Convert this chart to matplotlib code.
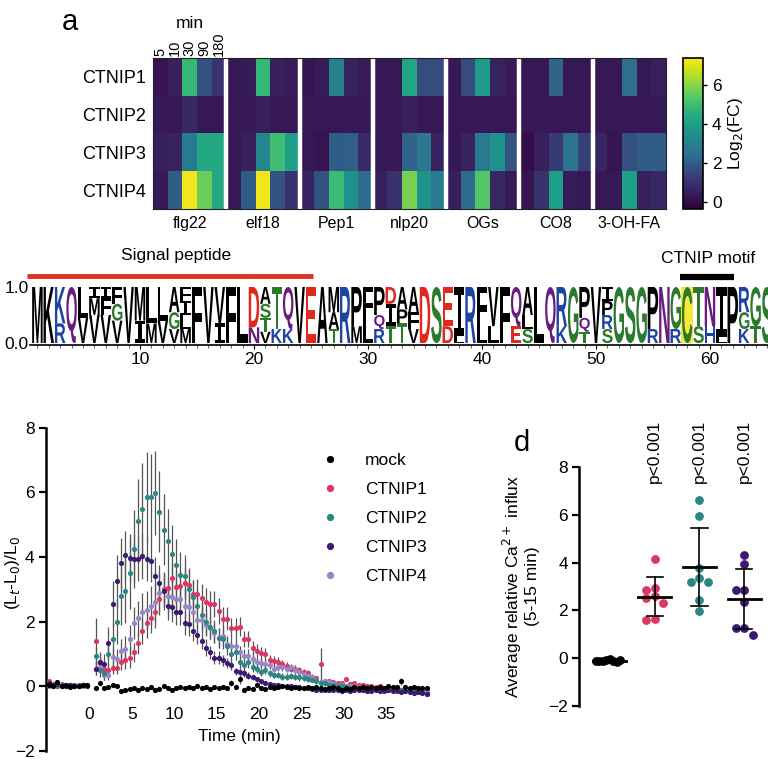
import numpy as np
import matplotlib
matplotlib.use("Agg")
import matplotlib.pyplot as plt
from matplotlib.textpath import TextPath
from matplotlib.patches import PathPatch, Rectangle
from matplotlib.font_manager import FontProperties
from matplotlib.colors import ListedColormap
import matplotlib.transforms as mtransforms
from matplotlib.lines import Line2D

plt.rcParams['font.family'] = ['Liberation Sans', 'DejaVu Sans']

# ---------------- data: heatmap (rows CTNIP1..4, cols 5,10,30,90,180 min) -------------
rows = ["CTNIP1", "CTNIP2", "CTNIP3", "CTNIP4"]
elicitors = ["flg22", "elf18", "Pep1", "nlp20", "OGs", "CO8", "3-OH-FA"]
timepoints = ["5", "10", "30", "90", "180"]
hm_flg22 = [[0.2, 0.5, 4.8, 1.8, 1.0], [0.3, 0.3, 0.7, 0.3, 0.3], [0.5, 0.6, 2.8, 4.3, 4.3], [0.3, 2.0, 7.2, 5.6, 4.3]]
hm_elf18 = [[0.3, 0.4, 4.8, 0.5, 0.4], [0.3, 0.3, 0.5, 0.3, 0.3], [0.3, 0.5, 3.2, 5.0, 4.0], [0.3, 2.0, 7.2, 1.8, 1.0]]
hm_pep1 = [[0.2, 0.4, 3.0, 0.6, 0.4], [0.3, 0.3, 0.3, 0.3, 0.3], [0.3, 0.2, 2.0, 2.1, 0.8], [0.6, 1.8, 4.9, 3.6, 2.4]]
hm_nlp20 = [[0.3, 0.3, 4.2, 1.6, 1.6], [0.3, 0.3, 0.5, 0.3, 0.3], [0.3, 0.3, 2.2, 2.7, 0.6], [0.5, 1.0, 5.8, 3.6, 2.8]]
hm_ogs = [[0.3, 1.6, 3.8, 0.6, 0.4], [0.3, 0.3, 0.3, 0.3, 0.3], [0.3, 0.6, 2.8, 3.6, 1.8], [0.5, 2.4, 5.3, 0.7, 0.4]]
hm_co8 = [[0.3, 0.3, 2.2, 0.3, 0.3], [0.3, 0.3, 0.3, 0.3, 0.3], [0.05, 0.5, 1.2, 2.6, 1.3], [0.2, 1.0, 4.0, 0.4, 0.3]]
hm_ohfa = [[0.3, 0.3, 2.5, 0.3, 0.5], [0.3, 0.3, 0.3, 0.3, 0.3], [0.7, 0.2, 1.7, 2.0, 2.0], [0.3, 0.3, 4.0, 0.5, 0.7]]

# ---------------- data: sequence logo ---------------------------------------------------
logo_letters = ["M", "K", "KR", "Q", "LV", "IMV", "IFV", "FGV", "V", "MI",
                "LM", "LV", "AGV", "FILM", "F", "V", "VI", "F", "L", "DN",
                "ASTV", "TK", "QK", "V", "E", "A", "MAT", "R", "PM", "FL",
                "PQR", "DIT", "APT", "AFV", "D", "S", "ED", "IL", "R", "FL",
                "VL", "F", "QE", "ALS", "L", "Q", "RK", "G", "PQT", "V",
                "IPRS", "G", "S", "G", "PR", "N", "GR", "C", "TS", "NH",
                "IL", "P", "RGK", "GT", "S"]
logo_heights = [[1.0], [1.0], [0.65, 0.35], [1.0], [0.55, 0.45], [0.2, 0.3, 0.5], [0.2, 0.3, 0.5], [0.3, 0.3, 0.4], [1.0], [0.6, 0.4],
                [0.65, 0.35], [0.6, 0.4], [0.45, 0.3, 0.25], [0.25, 0.25, 0.25, 0.25], [1.0], [1.0], [0.65, 0.35], [1.0], [1.0], [0.72, 0.28],
                [0.3, 0.25, 0.25, 0.2], [0.75, 0.25], [0.75, 0.25], [1.0], [1.0], [1.0], [0.45, 0.3, 0.25], [1.0], [0.7, 0.3], [0.6, 0.4],
                [0.5, 0.25, 0.25], [0.3, 0.4, 0.3], [0.4, 0.25, 0.35], [0.45, 0.3, 0.25], [1.0], [1.0], [0.7, 0.3], [0.88, 0.12], [1.0], [0.7, 0.3],
                [0.7, 0.3], [1.0], [0.7, 0.3], [0.5, 0.25, 0.25], [1.0], [1.0], [0.7, 0.3], [1.0], [0.55, 0.25, 0.2], [1.0],
                [0.25, 0.25, 0.25, 0.25], [1.0], [1.0], [1.0], [0.75, 0.25], [1.0], [0.75, 0.25], [1.0], [0.7, 0.3], [0.7, 0.3],
                [0.9, 0.1], [1.0], [0.45, 0.3, 0.25], [0.7, 0.3], [1.0]]
signal_peptide = (1, 25)
motif = (58, 61)
highlight_pos = 58

# ---------------- data: Ca2+ time course ------------------------------------------------
time_pre = np.arange(-4.75, 0.0, 0.5)
time_post = np.arange(0.75, 40.0, 0.5)
time = np.concatenate([time_pre, time_post])

mock = [0.05, 0.02, 0.12, 0.0, 0.03, -0.02, 0.02, 0.01, 0.03, 0.05,
        -0.05, 0.1, -0.05, -0.02, 0.05, 0.0, -0.15, -0.12, -0.08, -0.05,
        -0.1, -0.05, -0.08, -0.03, -0.1, -0.08, 0.02, -0.05, -0.1, -0.05,
        -0.03, -0.05, -0.02, -0.05, 0.0, -0.05, -0.02, -0.08, -0.03, -0.05,
        -0.02, -0.05, 0.1, -0.02, 0.22, -0.1, -0.05, -0.08, 0.05, -0.05,
        -0.08, -0.02, -0.05, -0.03, 0.0, -0.02, -0.05, -0.02, -0.05, -0.05,
        -0.03, -0.05, -0.02, -0.05, -0.08, -0.05, -0.03, -0.05, -0.1, -0.05,
        -0.08, -0.03, -0.05, -0.02, -0.05, -0.03, -0.05, -0.02, -0.05, 0.0,
        -0.02, -0.03, 0.15, -0.02, -0.05, -0.03, -0.05, -0.05, -0.05]
ctnip1 = [0.15, 0.05, 0.0, 0.08, 0.02, 0.05, 0.0, 0.03, 0.05, 0.02,
          1.4, 0.72, 0.55, 0.5, 0.57, 0.57, 0.75, 0.8, 0.88, 1.05,
          1.35, 1.7, 1.95, 2.1, 2.3, 2.7, 3.0, 3.05, 3.35, 3.07,
          3.1, 3.2, 3.15, 2.85, 2.87, 2.73, 2.6, 2.55, 2.56, 2.34,
          2.09, 2.09, 1.8, 1.8, 1.85, 1.46, 1.46, 1.2, 1.1, 1.03,
          1.0, 0.82, 0.78, 0.75, 0.7, 0.62, 0.55, 0.55, 0.5, 0.45,
          0.4, 0.3, 0.25, 0.7, 0.15, 0.15, 0.12, 0.1, 0.1, 0.22,
          0.08, 0.1, 0.05, 0.05, 0.0, 0.02, -0.02, 0.0, -0.05, -0.05,
          -0.08, -0.05, -0.1, -0.1, -0.12, -0.1, -0.15, -0.12, -0.2]
ctnip2 = [0.05, 0.08, 0.02, 0.05, 0.0, 0.03, 0.05, 0.02, 0.04, 0.03,
          0.93, 0.5, 0.4, 1.0, 1.45, 2.0, 2.8, 2.95, 3.5, 4.25,
          5.1, 5.5, 5.85, 5.85, 5.97, 5.4, 4.85, 4.5, 4.1, 3.75,
          3.45, 3.4, 3.0, 2.75, 2.5, 2.2, 2.0, 1.85, 1.7, 1.5,
          1.45, 1.25, 1.0, 1.05, 0.75, 0.65, 0.75, 0.6, 0.55, 0.45,
          0.5, 0.4, 0.35, 0.35, 0.3, 0.3, 0.32, 0.3, 0.28, 0.25,
          0.22, 0.2, 0.15, 0.1, 0.1, 0.05, 0.05, 0.0, 0.0, -0.02,
          -0.05, -0.05, -0.08, -0.1, -0.1, -0.12, -0.1, -0.12, -0.12, -0.1,
          -0.12, -0.1, -0.12, -0.15, -0.12, -0.1, -0.15, -0.18, -0.25]
ctnip3 = [0.1, 0.05, 0.08, 0.02, 0.0, 0.05, 0.02, 0.0, 0.03, 0.01,
          0.55, 0.75, 0.7, 1.35, 2.55, 3.25, 3.8, 4.05, 3.97, 3.95,
          3.95, 4.02, 3.95, 3.88, 3.4, 3.2, 2.95, 2.5, 2.45, 2.3,
          2.3, 1.95, 1.92, 1.7, 1.6, 1.4, 1.2, 1.05, 0.88, 0.88,
          0.8, 0.72, 0.65, 0.46, 0.43, 0.4, 0.33, 0.28, 0.22, 0.15,
          0.1, 0.07, 0.05, 0.03, 0.02, 0.0, 0.0, -0.02, -0.03, -0.05,
          -0.05, -0.08, -0.1, -0.1, -0.12, -0.12, -0.1, -0.12, -0.13, -0.12,
          -0.13, -0.12, -0.1, -0.12, -0.13, -0.15, -0.12, -0.15, -0.15, -0.12,
          -0.15, -0.15, -0.18, -0.15, -0.17, -0.2, -0.18, -0.22, -0.25]
ctnip4 = [0.02, 0.0, 0.05, 0.03, 0.0, 0.02, 0.04, 0.0, 0.02, 0.03,
          0.55, 0.6, 0.35, 0.35, 0.9, 0.85, 1.1, 1.15, 1.45, 1.95,
          2.1, 2.3, 2.35, 2.5, 2.6, 2.9, 2.95, 2.8, 2.75, 2.7,
          2.7, 2.5, 2.45, 2.3, 2.05, 2.05, 1.9, 1.8, 1.65, 1.5,
          1.55, 1.3, 1.25, 1.25, 1.05, 0.95, 0.95, 0.85, 0.75, 0.72,
          0.7, 0.65, 0.55, 0.6, 0.6, 0.55, 0.6, 0.5, 0.45, 0.38,
          0.32, 0.28, 0.2, 0.12, 0.15, 0.12, 0.1, 0.05, 0.05, 0.02,
          0.0, 0.0, -0.02, -0.05, -0.05, -0.05, -0.08, -0.05, -0.08, -0.1,
          -0.08, -0.1, -0.1, -0.12, -0.1, -0.12, -0.1, -0.15, -0.12]

err_mock = [0.05, 0.05, 0.05, 0.05, 0.05, 0.05, 0.05, 0.05, 0.05, 0.05,
            0.05, 0.08, 0.05, 0.05, 0.05, 0.05, 0.06, 0.05, 0.05, 0.05,
            0.05, 0.05, 0.05, 0.05, 0.05, 0.05, 0.05, 0.05, 0.05, 0.05,
            0.05, 0.05, 0.05, 0.05, 0.05, 0.05, 0.05, 0.05, 0.05, 0.05,
            0.05, 0.05, 0.1, 0.05, 0.15, 0.05, 0.05, 0.05, 0.05, 0.05,
            0.05, 0.05, 0.05, 0.05, 0.05, 0.05, 0.05, 0.05, 0.05, 0.05,
            0.05, 0.05, 0.05, 0.05, 0.05, 0.05, 0.05, 0.05, 0.05, 0.05,
            0.05, 0.05, 0.05, 0.05, 0.05, 0.05, 0.05, 0.05, 0.05, 0.05,
            0.05, 0.05, 0.1, 0.05, 0.05, 0.05, 0.05, 0.05, 0.05]
err1 = [0.08, 0.05, 0.05, 0.05, 0.05, 0.05, 0.05, 0.05, 0.05, 0.05,
        0.7, 0.3, 0.2, 0.2, 0.2, 0.2, 0.25, 0.25, 0.3, 0.3,
        0.35, 0.4, 0.45, 0.45, 0.5, 0.5, 0.5, 0.5, 0.5, 0.5,
        0.5, 0.5, 0.5, 0.45, 0.45, 0.45, 0.45, 0.4, 0.4, 0.4,
        0.35, 0.35, 0.3, 0.3, 0.3, 0.25, 0.25, 0.2, 0.2, 0.2,
        0.18, 0.15, 0.15, 0.15, 0.12, 0.12, 0.12, 0.1, 0.1, 0.1,
        0.1, 0.08, 0.08, 0.5, 0.08, 0.08, 0.07, 0.07, 0.07, 0.07,
        0.06, 0.06, 0.06, 0.06, 0.06, 0.06, 0.06, 0.06, 0.06, 0.06,
        0.06, 0.06, 0.06, 0.06, 0.06, 0.06, 0.06, 0.06, 0.06]
err2 = [0.05, 0.05, 0.05, 0.05, 0.05, 0.05, 0.05, 0.05, 0.05, 0.05,
        0.3, 0.2, 0.2, 0.4, 0.5, 0.7, 0.9, 1.0, 1.1, 1.2,
        1.3, 1.4, 1.4, 1.35, 1.3, 1.25, 1.1, 1.0, 0.9, 0.8,
        0.7, 0.65, 0.6, 0.55, 0.5, 0.45, 0.4, 0.4, 0.35, 0.3,
        0.3, 0.28, 0.25, 0.25, 0.2, 0.18, 0.18, 0.15, 0.15, 0.12,
        0.12, 0.1, 0.1, 0.1, 0.1, 0.1, 0.1, 0.1, 0.1, 0.08,
        0.08, 0.08, 0.08, 0.08, 0.08, 0.06, 0.06, 0.06, 0.06, 0.06,
        0.06, 0.06, 0.06, 0.06, 0.06, 0.06, 0.06, 0.06, 0.06, 0.06,
        0.06, 0.06, 0.06, 0.06, 0.06, 0.06, 0.06, 0.06, 0.06]
err3 = [0.05, 0.05, 0.05, 0.05, 0.05, 0.05, 0.05, 0.05, 0.05, 0.05,
        0.2, 0.3, 0.3, 0.5, 0.7, 0.8, 0.8, 0.75, 0.75, 0.75,
        0.7, 0.7, 0.7, 0.65, 0.6, 0.55, 0.5, 0.45, 0.45, 0.4,
        0.4, 0.35, 0.35, 0.3, 0.3, 0.25, 0.25, 0.2, 0.2, 0.2,
        0.18, 0.15, 0.15, 0.12, 0.12, 0.1, 0.1, 0.08, 0.08, 0.08,
        0.06, 0.06, 0.06, 0.06, 0.06, 0.06, 0.06, 0.06, 0.06, 0.06,
        0.06, 0.06, 0.06, 0.06, 0.06, 0.06, 0.06, 0.06, 0.06, 0.06,
        0.06, 0.06, 0.06, 0.06, 0.06, 0.06, 0.06, 0.06, 0.06, 0.06,
        0.06, 0.06, 0.06, 0.06, 0.06, 0.06, 0.06, 0.06, 0.06]
err4 = [0.05, 0.05, 0.05, 0.05, 0.05, 0.05, 0.05, 0.05, 0.05, 0.05,
        0.2, 0.2, 0.15, 0.15, 0.3, 0.3, 0.35, 0.4, 0.45, 0.5,
        0.55, 0.6, 0.6, 0.6, 0.6, 0.6, 0.6, 0.55, 0.55, 0.5,
        0.5, 0.5, 0.45, 0.45, 0.4, 0.4, 0.35, 0.35, 0.3, 0.3,
        0.3, 0.25, 0.25, 0.25, 0.2, 0.2, 0.2, 0.18, 0.15, 0.15,
        0.15, 0.12, 0.12, 0.12, 0.12, 0.1, 0.1, 0.1, 0.1, 0.08,
        0.06, 0.06, 0.06, 0.06, 0.06, 0.06, 0.06, 0.06, 0.06, 0.06,
        0.06, 0.06, 0.06, 0.06, 0.06, 0.06, 0.06, 0.06, 0.06, 0.06,
        0.06, 0.06, 0.06, 0.06, 0.06, 0.06, 0.06, 0.06, 0.06]

series_names = ["mock", "CTNIP1", "CTNIP2", "CTNIP3", "CTNIP4"]
series_colors = ["#000000", "#dc3764", "#2a8783", "#3c1973", "#9687c8"]

# ---------------- data: average influx (5-15 min) ---------------------------------------
avg_mock = [-0.05, -0.08, -0.1, -0.12, -0.15, -0.1, -0.08, -0.12]
avg_c1 = [4.15, 2.95, 2.85, 2.6, 2.5, 2.3, 1.65, 1.6]
avg_c2 = [6.6, 5.95, 3.78, 3.35, 3.17, 3.17, 2.45, 1.96]
avg_c3 = [4.3, 3.95, 2.85, 2.85, 2.34, 1.25, 1.25, 0.97]
pvals = [None, "p<0.001", "p<0.001", "p<0.001"]

# ---------------- figure ----------------------------------------------------------------
W = H = 768
fig = plt.figure(figsize=(7.68, 7.68), dpi=100)


def add_ax(l, t, r, b):
    return fig.add_axes([l / W, 1 - b / H, (r - l) / W, (b - t) / H])


# colormap: viridis with a darker low end (as in the reference rendering)
_v = plt.get_cmap('viridis')(np.linspace(0, 1, 256))
_f = 0.68 + 0.32 * np.clip(np.linspace(0, 1, 256) / 0.35, 0, 1)
_v[:, :3] = _v[:, :3] * _f[:, None]
cmap_dark = ListedColormap(_v)

# ---- panel a: heatmap
ax_hm = add_ax(153, 58, 666, 209)
blocks = [hm_flg22, hm_elf18, hm_pep1, hm_nlp20, hm_ogs, hm_co8, hm_ohfa]
hm = np.hstack([np.array(b) for b in blocks])
im = ax_hm.imshow(hm, aspect='auto', cmap=cmap_dark, vmin=-0.37, vmax=7.38,
                  interpolation='nearest')
for i in range(1, len(blocks)):
    ax_hm.axvline(i * 5 - 0.5, color='white', lw=3.2)
ax_hm.set_yticks(range(len(rows)))
ax_hm.set_yticklabels(rows, fontsize=13)
ax_hm.set_xticks([i * 5 + 2 for i in range(len(blocks))])
ax_hm.set_xticklabels(elicitors, fontsize=11.5)
ax_hm.tick_params(length=0, pad=5)
for s in ax_hm.spines.values():
    s.set_linewidth(0.8)
    s.set_color('#222222')
for j, tl in enumerate(timepoints):
    ax_hm.text(j, -0.56, tl, rotation=90, ha='center', va='bottom', fontsize=10.5)
ax_hm.text(2, -1.22, "min", ha='center', va='bottom', fontsize=12.5)

cax = add_ax(683, 58, 703, 209)
cb = fig.colorbar(im, cax=cax, ticks=[0, 2, 4, 6])
cb.outline.set_linewidth(1.2)
cax.tick_params(labelsize=12.5, length=3, width=1)
cax.set_ylabel("Log$_2$(FC)", fontsize=12.5, labelpad=3)
fig.text(62 / W, 1 - 22 / H, "a", fontsize=21, va='center')

# ---- panel b: sequence logo
ax_lg = add_ax(30, 287, 768, 345)
fp = FontProperties(family='Liberation Sans', weight='bold')
fp_i = FontProperties(family='Liberation Mono', weight='bold')
chem = {}
for c in "AVLIPWFM":
    chem[c] = '#000000'
for c in "KRH":
    chem[c] = '#1c44a0'
for c in "STGYC":
    chem[c] = '#2b7a2e'
for c in "QN":
    chem[c] = '#6b1a80'
for c in "DE":
    chem[c] = '#e0281f'
color_override = {2: '#000000'}

ax_lg.add_patch(Rectangle((highlight_pos - 0.5, 0), 1, 1, fc='#f8e83a', ec='none'))


def draw_letter(ax, ch, xc, y0, w, h, color):
    tp = TextPath((0, 0), ch, size=1, prop=fp_i if ch == 'I' else fp)
    bb = tp.get_extents()
    tr = (mtransforms.Affine2D().translate(-bb.x0, -bb.y0)
          .scale(w / bb.width, h / bb.height).translate(xc - w / 2, y0))
    ax.add_patch(PathPatch(tr.transform_path(tp), fc=color, ec='none', lw=0))


for i, (lets, hts) in enumerate(zip(logo_letters, logo_heights)):
    pos = i + 1
    y = 0.0
    for ch, h in zip(lets[::-1], hts[::-1]):
        col = color_override.get(pos, chem[ch]) if len(lets) == 1 else chem[ch]
        draw_letter(ax_lg, ch, pos, y, 0.92, h, col)
        y += h

ax_lg.set_xlim(0.351, 65.09)
ax_lg.set_ylim(-0.035, 1.0)
for s in ['top', 'right', 'left']:
    ax_lg.spines[s].set_visible(False)
ax_lg.spines['bottom'].set_linewidth(1.2)
ax_lg.set_xticks([10, 20, 30, 40, 50, 60])
ax_lg.set_xticks(range(1, 66), minor=True)
ax_lg.tick_params(axis='x', which='major', length=3, width=0.8, labelsize=12.5, pad=2)
ax_lg.tick_params(axis='x', which='minor', length=2, width=0.6, color='#555555')
ax_lg.set_yticks([0, 1])
ax_lg.set_yticklabels(["0.0", "1.0"])
ax_lg.tick_params(axis='y', length=0, labelsize=12.5, pad=1)
ax_lg.plot([signal_peptide[0] - 0.9, signal_peptide[1] + 0.2], [1.2, 1.2], color='#e0301e',
           lw=3.5, clip_on=False, solid_capstyle='butt')
ax_lg.text((signal_peptide[0] + signal_peptide[1]) / 2 + 0.2, 1.42, "Signal peptide",
           ha='center', va='bottom', fontsize=12.5)
ax_lg.plot([motif[0] - 0.65, motif[1] + 1.1], [1.17, 1.17], color='black', lw=4.5,
           clip_on=False, solid_capstyle='butt')
ax_lg.text((motif[0] + motif[1]) / 2 + 0.3, 1.38, "CTNIP motif", ha='center',
           va='bottom', fontsize=12.5)

# ---- panel c: time course
ax_c = add_ax(45.7, 427.7, 433, 751)
series = [mock, ctnip1, ctnip2, ctnip3, ctnip4]
errs = [err_mock, err1, err2, err3, err4]
draw_order = [1, 4, 2, 3, 0]
for k in draw_order:
    ax_c.errorbar(time, series[k], yerr=errs[k], fmt='none', ecolor='#555555',
                  elinewidth=0.9, capsize=0, zorder=2)
for k in draw_order:
    ax_c.scatter(time, series[k], s=14, color=series_colors[k], zorder=3, lw=0)
ax_c.set_xlim(-5.13, 40.5)
ax_c.set_ylim(-2, 8)
ax_c.set_yticks([-2, 0, 2, 4, 6, 8])
ax_c.set_xticks([0, 5, 10, 15, 20, 25, 30, 35])
for s in ['top', 'right']:
    ax_c.spines[s].set_visible(False)
ax_c.spines['bottom'].set_position(('data', -0.55))
ax_c.spines['bottom'].set_visible(False)
ax_c.spines['left'].set_linewidth(1.8)
ax_c.tick_params(axis='x', length=0, labelsize=12.5, pad=2)
ax_c.tick_params(axis='y', length=5, width=1.6, labelsize=12.5, pad=3)
ax_c.set_xlabel("Time (min)", fontsize=12.5, labelpad=5)
ax_c.set_ylabel("(L$_t$-L$_0$)/L$_0$", fontsize=12.5)
ax_c.yaxis.set_label_coords(-0.062, 0.55)
handles = [Line2D([], [], ls='none', marker='o', ms=4.2, color=c) for c in series_colors]
ax_c.legend(handles, series_names, loc='upper left', bbox_to_anchor=(0.695, 0.945),
            frameon=False, fontsize=12.5, handletextpad=1.5, labelspacing=0.8,
            handlelength=1.0, borderaxespad=0)

# ---- panel d: average influx dot plot
ax_d = add_ax(579, 467, 768, 706)
groups = [avg_mock, avg_c1, avg_c2, avg_c3]
gcolors = series_colors[:4]
px_per_x = 44.8
px_per_y = 23.9
diam = 8.7
max_half_spread = 14.0
for gi, vals in enumerate(groups):
    xc = gi + 1
    placed = []
    for v in vals:
        for off in [0, -1, 1, -2, 2, -3, 3, -4, 4]:
            cx = off * diam * 0.95
            ok = all(np.hypot(cx - px, (v - py) * px_per_y) >= diam * 0.95 for px, py in placed)
            if ok:
                break
        placed.append((cx, v))
    offs = np.array([p[0] for p in placed])
    span = np.max(np.abs(offs))
    if span > max_half_spread:
        offs = offs * max_half_spread / span
    xs = xc + offs / px_per_x
    ax_d.scatter(xs, vals, s=40, color=gcolors[gi], lw=0, zorder=2, clip_on=False)
    m = np.mean(vals)
    sd = np.std(vals, ddof=1)
    ax_d.plot([xc - 0.37, xc + 0.37], [m, m], color='black', lw=2, zorder=3)
    ax_d.plot([xc, xc], [m - sd, m + sd], color='black', lw=1.2, zorder=3)
    ax_d.plot([xc - 0.18, xc + 0.18], [m + sd, m + sd], color='black', lw=1.2, zorder=3)
    ax_d.plot([xc - 0.18, xc + 0.18], [m - sd, m - sd], color='black', lw=1.2, zorder=3)
    if pvals[gi]:
        ax_d.text(xc, 7.35, pvals[gi], rotation=90, ha='center', va='bottom',
                  fontsize=12.5, clip_on=False)
ax_d.set_xlim(0.31, 4.53)
ax_d.set_ylim(-2, 8)
ax_d.set_yticks([-2, 0, 2, 4, 6, 8])
ax_d.set_xticks([])
for s in ['top', 'right', 'bottom']:
    ax_d.spines[s].set_visible(False)
ax_d.spines['left'].set_linewidth(1.8)
ax_d.tick_params(axis='y', length=5, width=1.6, labelsize=12.5, pad=3)
ax_d.set_ylabel("Average relative Ca$^{2+}$ influx\n(5-15 min)", fontsize=12.5,
                labelpad=6, linespacing=1.1)
fig.text(514 / W, 1 - 443 / H, "d", fontsize=21, va='center')

fig.savefig("out.png", dpi=100)
